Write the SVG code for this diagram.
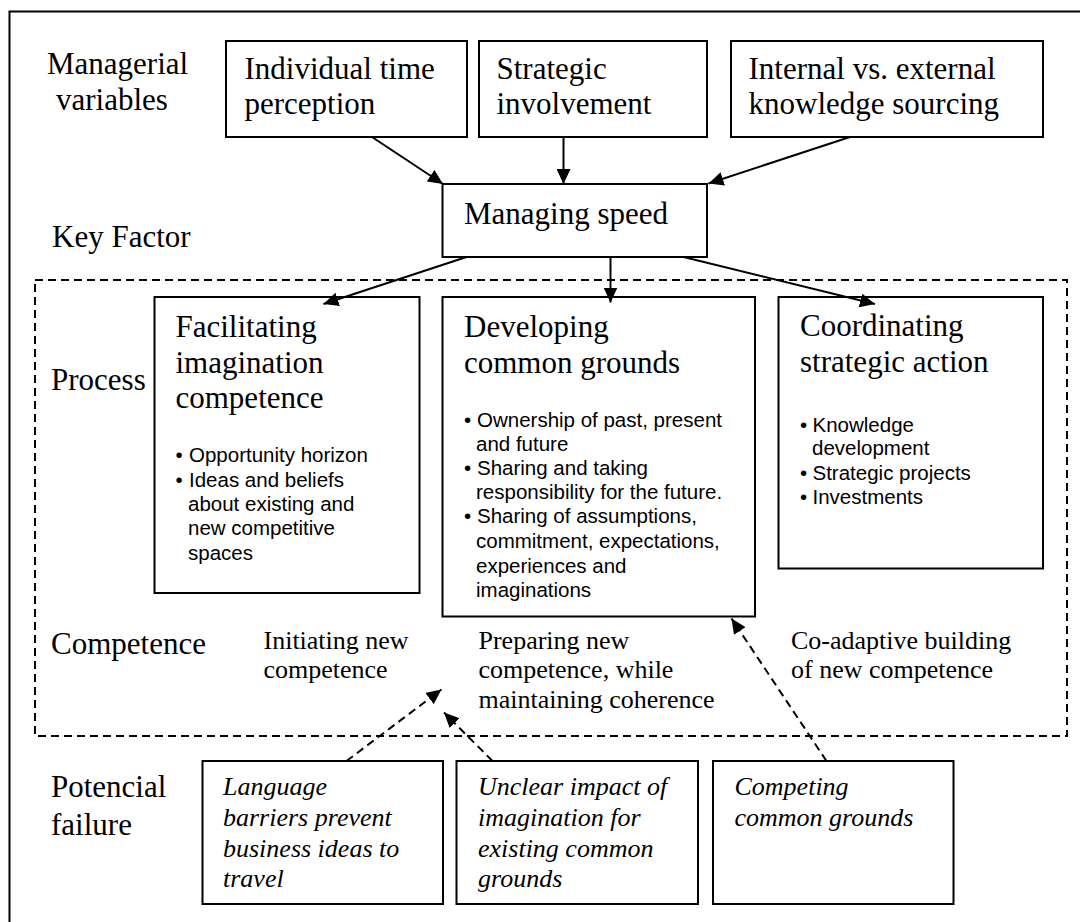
<svg xmlns="http://www.w3.org/2000/svg" width="1080" height="922" viewBox="0 0 1080 922">
  <style>
    .box { fill: #ffffff; stroke: #000000; stroke-width: 2; }
    .frame { fill: none; stroke: #000000; stroke-width: 2; }
    .zone { fill: none; stroke: #000000; stroke-width: 2; stroke-dasharray: 8 5; }
    .link { fill: none; stroke: #000000; stroke-width: 2; marker-end: url(#head); }
    .weak { fill: none; stroke: #000000; stroke-width: 2; stroke-dasharray: 8 5; marker-end: url(#head); }
    .serif { font-family: "Liberation Serif", "Times New Roman", serif; fill: #000000; }
    .lbl { font-size: 31px; }
    .ttl { font-size: 31px; }
    .cmp { font-size: 26px; }
    .risk { font-size: 26px; font-style: italic; }
    .sans { font-family: "Liberation Sans", Arial, sans-serif; font-size: 20.5px; fill: #000000; }
  </style>
  <defs>
    <marker id="head" markerUnits="userSpaceOnUse" markerWidth="16" markerHeight="14" refX="15" refY="7" orient="auto">
      <path d="M0,0 L15,7 L0,14 Z" fill="#000000" stroke="none"/>
    </marker>
  </defs>

  <rect width="1080" height="922" fill="#ffffff"/>
  <!-- outer frame -->
  <rect class="frame" x="9.5" y="11.5" width="1100" height="950"/>
  <!-- dashed zone around process and competence rows -->
  <rect class="zone" x="35" y="280" width="1032" height="456"/>

  <!-- row labels -->
  <g id="row-labels" class="serif lbl">
    <text x="47" y="74">Managerial</text>
    <text x="56" y="110">variables</text>
    <text x="52" y="247">Key Factor</text>
    <text x="51" y="390">Process</text>
    <text x="51" y="654">Competence</text>
    <text x="51" y="797">Potencial</text>
    <text x="51" y="835">failure</text>
  </g>

  <!-- managerial variables -->
  <g id="individual-time">
    <rect class="box" x="226" y="41" width="241" height="96"/>
    <text class="serif ttl" x="244.5" y="79">Individual time</text>
    <text class="serif ttl" x="244.5" y="114">perception</text>
  </g>
  <g id="strategic-involvement">
    <rect class="box" x="479" y="41" width="228" height="96"/>
    <text class="serif ttl" x="496.5" y="79">Strategic</text>
    <text class="serif ttl" x="496.5" y="114">involvement</text>
  </g>
  <g id="knowledge-sourcing">
    <rect class="box" x="731" y="41" width="312" height="96"/>
    <text class="serif ttl" x="748.5" y="79">Internal vs. external</text>
    <text class="serif ttl" x="748.5" y="114">knowledge sourcing</text>
  </g>

  <!-- key factor -->
  <g id="managing-speed">
    <rect class="box" x="442.5" y="184" width="264.5" height="73"/>
    <text class="serif ttl" x="464" y="224">Managing speed</text>
  </g>

  <!-- processes -->
  <g id="facilitating-imagination">
    <rect class="box" x="154.5" y="297" width="265" height="296"/>
    <text class="serif ttl" x="175.5" y="337">Facilitating</text>
    <text class="serif ttl" x="175.5" y="372.5">imagination</text>
    <text class="serif ttl" x="175.5" y="408">competence</text>
    <g class="sans">
      <text x="175.5" y="462">•</text><text x="189" y="462">Opportunity horizon</text>
      <text x="175.5" y="486.5">•</text><text x="189" y="486.5">Ideas and beliefs</text>
      <text x="188" y="511">about existing and</text>
      <text x="188" y="535">new competitive</text>
      <text x="188" y="559.5">spaces</text>
    </g>
  </g>
  <g id="developing-common-grounds">
    <rect class="box" x="442.5" y="297" width="312.5" height="319.5"/>
    <text class="serif ttl" x="464" y="337">Developing</text>
    <text class="serif ttl" x="464" y="372.5">common grounds</text>
    <g class="sans">
      <text x="464" y="426.5">•</text><text x="477" y="426.5">Ownership of past, present</text>
      <text x="476" y="450.5">and future</text>
      <text x="464" y="475">•</text><text x="477" y="475">Sharing and taking</text>
      <text x="476" y="499">responsibility for the future.</text>
      <text x="464" y="523">•</text><text x="477" y="523">Sharing of assumptions,</text>
      <text x="476" y="548">commitment, expectations,</text>
      <text x="476" y="572.5">experiences and</text>
      <text x="476" y="596.5">imaginations</text>
    </g>
  </g>
  <g id="coordinating-action">
    <rect class="box" x="778.5" y="297" width="264.5" height="271.5"/>
    <text class="serif ttl" x="800" y="336">Coordinating</text>
    <text class="serif ttl" x="800" y="372">strategic action</text>
    <g class="sans">
      <text x="800" y="431.5">•</text><text x="812.5" y="431.5">Knowledge</text>
      <text x="812" y="455">development</text>
      <text x="800" y="480">•</text><text x="812.5" y="480">Strategic projects</text>
      <text x="800" y="504">•</text><text x="812.5" y="504">Investments</text>
    </g>
  </g>

  <!-- competence statements -->
  <g id="competence-initiating" class="serif cmp">
    <text x="263.5" y="649">Initiating new</text>
    <text x="263.5" y="678">competence</text>
  </g>
  <g id="competence-preparing" class="serif cmp">
    <text x="478.5" y="649">Preparing new</text>
    <text x="478.5" y="678">competence, while</text>
    <text x="478.5" y="708">maintaining coherence</text>
  </g>
  <g id="competence-coadaptive" class="serif cmp">
    <text x="791" y="649">Co-adaptive building</text>
    <text x="791" y="678">of new competence</text>
  </g>

  <!-- potential failures -->
  <g id="failure-language">
    <rect class="box" x="202.5" y="761" width="240.5" height="143"/>
    <text class="serif risk" x="223" y="795">Language</text>
    <text class="serif risk" x="223" y="826">barriers prevent</text>
    <text class="serif risk" x="223" y="856.5">business ideas to</text>
    <text class="serif risk" x="223" y="886.5">travel</text>
  </g>
  <g id="failure-unclear-impact">
    <rect class="box" x="456.5" y="761" width="241.5" height="143"/>
    <text class="serif risk" x="478" y="795">Unclear impact of</text>
    <text class="serif risk" x="478" y="826">imagination for</text>
    <text class="serif risk" x="478" y="856.5">existing common</text>
    <text class="serif risk" x="478" y="886.5">grounds</text>
  </g>
  <g id="failure-competing">
    <rect class="box" x="713" y="761" width="240.5" height="143"/>
    <text class="serif risk" x="734.5" y="795">Competing</text>
    <text class="serif risk" x="734.5" y="826">common grounds</text>
  </g>

  <!-- connectors -->
  <g id="connectors">
    <line class="link" x1="372" y1="137" x2="443" y2="184"/>
    <line class="link" x1="563.5" y1="137" x2="563.5" y2="184"/>
    <line class="link" x1="850" y1="137" x2="708.5" y2="183.5"/>
    <line class="link" x1="466.5" y1="257" x2="323.5" y2="304"/>
    <line class="link" x1="610.5" y1="257" x2="610.5" y2="302.5"/>
    <line class="link" x1="683.5" y1="257" x2="875" y2="304"/>
    <line class="weak" x1="346.5" y1="761" x2="441.5" y2="689.5"/>
    <line class="weak" x1="492.5" y1="761" x2="444" y2="712.5"/>
    <line class="weak" x1="826.5" y1="761" x2="731.5" y2="618.5"/>
  </g>
</svg>
